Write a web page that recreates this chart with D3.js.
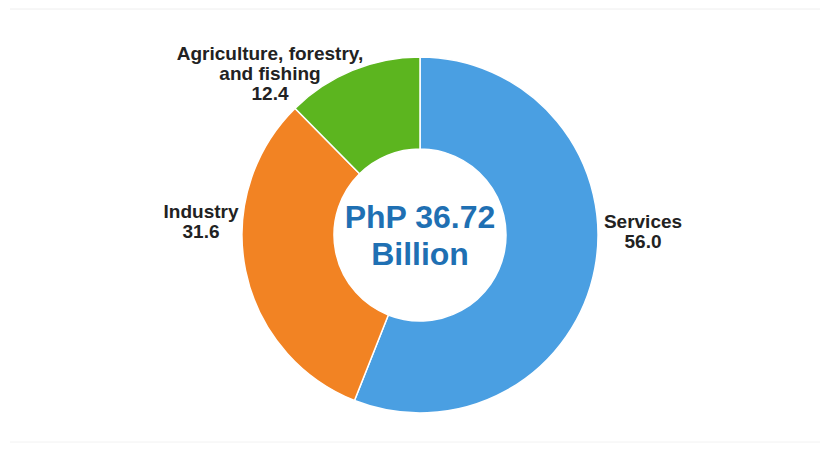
<!DOCTYPE html>
<html><head><meta charset="utf-8">
<script src="https://cdn.jsdelivr.net/npm/d3@7"></script>
<style>html,body{margin:0;padding:0;background:#fff;}svg{display:block;}</style>
</head><body>
<svg id="c" width="825" height="455"></svg>
<script>
const categories = ["Services", "Industry", "Agriculture, forestry, and fishing"];
const values = [56.0, 31.6, 12.4];
const labelLines = [["Services", "56.0"], ["Industry", "31.6"], ["Agriculture, forestry,", "and fishing", "12.4"]];
const colors = ["#4a9fe2", "#f28323", "#5cb51f"];
const centerLines = ["PhP 36.72", "Billion"];

const svg = d3.select("#c");
svg.append("line").attr("x1",10).attr("x2",820).attr("y1",9).attr("y2",9).attr("stroke","#eee").attr("stroke-width",1);
svg.append("line").attr("x1",10).attr("x2",820).attr("y1",442).attr("y2",442).attr("stroke","#f2f2f2").attr("stroke-width",1);

const cx = 420, cy = 235, R = 178, r = 86;
const g = svg.append("g").attr("transform", `translate(${cx},${cy})`);
const pie = d3.pie().sort(null).value(d => d)(values);
const arc = d3.arc().innerRadius(r).outerRadius(R);
g.selectAll("path").data(pie).enter().append("path")
  .attr("d", arc).attr("fill", (d,i) => colors[i])
  .attr("stroke", "#fff").attr("stroke-width", 1.5);

const labelPos = [[223, -7], [-219, -17], [-150, -175]];
labelLines.forEach((lines, i) => {
  const t = g.append("text").attr("text-anchor","middle")
    .attr("font-family","'Liberation Sans', Arial, sans-serif")
    .attr("font-weight","bold").attr("font-size",19).attr("fill","#222");
  lines.forEach((s, j) => t.append("tspan").attr("x", labelPos[i][0]).attr("y", labelPos[i][1] + j*20).text(s));
});

const ct = g.append("text").attr("text-anchor","middle")
  .attr("font-family","'Liberation Sans', Arial, sans-serif")
  .attr("font-weight","bold").attr("font-size",32).attr("fill","#1f70b3");
centerLines.forEach((s, j) => ct.append("tspan").attr("x", 0).attr("y", -7 + j*37).text(s));
</script>
</body></html>
